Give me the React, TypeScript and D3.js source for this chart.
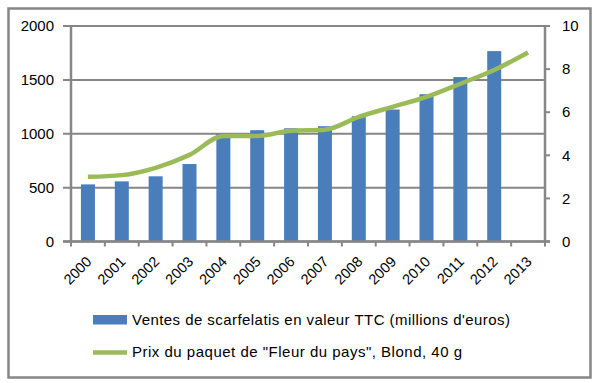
import React from "react";
import * as d3 from "d3";

const years = ["2000","2001","2002","2003","2004","2005","2006","2007","2008","2009","2010","2011","2012","2013"];
const sales: (number | null)[] = [530, 558, 605, 719, 998, 1033, 1051, 1070, 1163, 1225, 1367, 1526, 1767, null];
const price = [3.0, 3.08, 3.42, 4.02, 4.9, 4.9, 5.14, 5.19, 5.78, 6.25, 6.71, 7.32, 7.96, 8.77];
const leftTicks = [0, 500, 1000, 1500, 2000];
const rightTicks = [0, 2, 4, 6, 8, 10];
const legendLabels = ["Ventes de scarfelatis en valeur TTC (millions d'euros)", "Prix du paquet de \"Fleur du pays\", Blond, 40 g"];

const W = 597, H = 383;
const L = 71, R = 545, T = 26, B = 241.5;
const BLUE = "#4A7EBB";
const GREEN = "#9BBB59";
const GRID = "#868686";
const FONT = "'Liberation Sans', Arial, sans-serif";

export default function App() {
  const x = d3.scaleBand().domain(years).range([L, R]);
  const yL = d3.scaleLinear().domain([0, 2000]).range([B, T]);
  const yR = d3.scaleLinear().domain([0, 10]).range([B, T]);
  const bw = 14;
  const line = d3
    .line<number>()
    .x((_, i) => (x(years[i]) as number) + x.bandwidth() / 2)
    .y((d) => yR(d))
    .curve(d3.curveMonotoneX);

  return (
    <svg width={W} height={H} style={{ position: "absolute", left: 0, top: 0 }} fontFamily={FONT}>
      <rect x={0} y={0} width={W} height={H} fill="#fff" />
      <rect x={8.5} y={8.5} width={582} height={369} fill="none" stroke={GRID} strokeWidth={2.5} />
      {leftTicks.map((t) => (
        <g key={t}>
          <line x1={63} x2={R + (t === 2000 ? 5 : 0)} y1={yL(t)} y2={yL(t)} stroke={GRID} strokeWidth={2} />
          <text x={54} y={yL(t)} dy="0.35em" textAnchor="end" fontSize={15} fill="#000">{t}</text>
        </g>
      ))}
      {rightTicks.map((t) => (
        <g key={"r" + t}>
          <line x1={R} x2={R + 5} y1={yR(t)} y2={yR(t)} stroke={GRID} strokeWidth={2} />
          <text x={562} y={yR(t)} dy="0.35em" textAnchor="start" fontSize={15} fill="#000">{t}</text>
        </g>
      ))}
      {sales.map((v, i) =>
        v == null ? null : (
          <rect
            key={"b" + i}
            x={(x(years[i]) as number) + x.bandwidth() / 2 - bw / 2}
            y={yL(v)}
            width={bw}
            height={B - yL(v)}
            fill={BLUE}
          />
        )
      )}
      <line x1={L} x2={L} y1={T} y2={B + 1} stroke={GRID} strokeWidth={2.5} />
      <line x1={R} x2={R} y1={T} y2={B + 1} stroke={GRID} strokeWidth={2.5} />
      <line x1={63} x2={R + 5} y1={B} y2={B} stroke={GRID} strokeWidth={2.5} />
      {years.map((yr, i) => (
        <line key={"xt" + i} x1={(x(yr) as number)} x2={(x(yr) as number)} y1={B} y2={B + 5} stroke={GRID} strokeWidth={2} />
      ))}
      <line x1={R} x2={R} y1={B} y2={B + 5} stroke={GRID} strokeWidth={2} />
      <path d={line(price) || ""} fill="none" stroke={GREEN} strokeWidth={4.5} />
      {years.map((yr) => {
        const cx = (x(yr) as number) + x.bandwidth() / 2;
        return (
          <text
            key={"xl" + yr}
            transform={`translate(${cx + 1},${259}) rotate(-45)`}
            textAnchor="end"
            dy="0.35em"
            fontSize={14.5}
            fill="#000"
          >
            {yr}
          </text>
        );
      })}
      <rect x={93} y={315} width={34} height={9.5} fill={BLUE} />
      <text x={132} y={320} dy="0.35em" fontSize={15} fill="#000" textLength={378} lengthAdjust="spacing">{legendLabels[0]}</text>
      <line x1={93} x2={127} y1={352.5} y2={352.5} stroke={GREEN} strokeWidth={4.5} />
      <text x={132} y={352} dy="0.35em" fontSize={15} fill="#000" textLength={330} lengthAdjust="spacing">{legendLabels[1]}</text>
    </svg>
  );
}
